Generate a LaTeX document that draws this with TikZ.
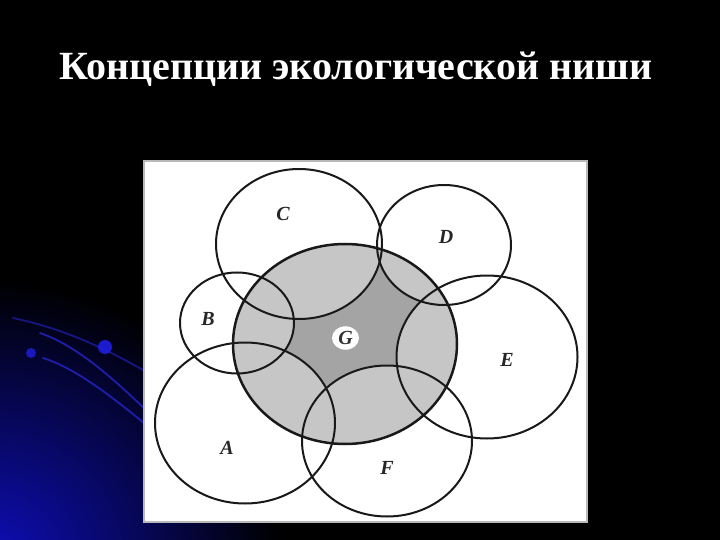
\documentclass[tikz,border=0pt]{standalone}
\usepackage{fontspec}
\setmainfont{Liberation Serif}
\definecolor{gdark}{RGB}{164,164,164}
\definecolor{glight}{RGB}{198,198,198}
\definecolor{glowblue}{RGB}{14,14,185}
\definecolor{arcblue}{RGB}{40,40,215}
\definecolor{dotblue}{RGB}{30,30,225}
\definecolor{panelrim}{RGB}{185,185,185}
\begin{document}
\begin{tikzpicture}[x=1pt,y=-1pt,
  ring/.style={draw=black!90, line width=2pt},
  lbl/.style={font=\fontsize{20}{22}\selectfont\bfseries\itshape, text=black!85, inner sep=0pt},
  arcline/.style={draw=arcblue, line width=1.8pt, line cap=round},
  glowdot/.style={fill=dotblue}
]
\useasboundingbox (0,0) rectangle (720,540);
\fill[black] (0,0) rectangle (720,540);
% blue glow bottom-left
\shade[inner color=glowblue, outer color=black]
  (-10,560) ellipse [x radius=290pt, y radius=280pt];
% decorative arcs
\draw[arcline, opacity=0.55] (13,318) .. controls (60,328) and (100,345) .. (150,374);
\draw[arcline, opacity=0.75] (40,333) .. controls (75,345) and (110,375) .. (150,414);
\draw[arcline, opacity=0.75] (43,358) .. controls (75,368) and (110,395) .. (150,428);
\fill[glowdot, opacity=0.8] (31,353) circle (5pt);
\fill[glowdot, opacity=0.9] (105,347) circle (7pt);
% title
\node[anchor=base, text=white, inner sep=0pt, font=\fontsize{40}{48}\selectfont\bfseries] (title) at (356,80) {Концепции экологической ниши};
% white panel
\fill[white, draw=panelrim, line width=1.5pt] (144,161) rectangle (587,522);
% G area
\fill[gdark] (345,344) ellipse [x radius=112pt, y radius=100pt];
\begin{scope}
  \clip (345,344) ellipse [x radius=112pt, y radius=100pt];
  \fill[glight]
    (299,244) ellipse [x radius=83pt, y radius=75pt]
    (444,245) ellipse [x radius=67pt, y radius=60pt]
    (237,323) ellipse [x radius=57pt, y radius=50.5pt]
    (487,357) ellipse [x radius=90.5pt, y radius=81.5pt]
    (245,423) ellipse [x radius=90pt, y radius=80.5pt]
    (387,441) ellipse [x radius=85pt, y radius=75.5pt];
\end{scope}
% outlines
\draw[ring] (299,244) ellipse [x radius=83pt, y radius=75pt];
\draw[ring] (444,245) ellipse [x radius=67pt, y radius=60pt];
\draw[ring] (237,323) ellipse [x radius=57pt, y radius=50.5pt];
\draw[ring] (487,357) ellipse [x radius=90.5pt, y radius=81.5pt];
\draw[ring] (245,423) ellipse [x radius=90pt, y radius=80.5pt];
\draw[ring] (387,441) ellipse [x radius=85pt, y radius=75.5pt];
\draw[ring, line width=2.5pt] (345,344) ellipse [x radius=112pt, y radius=100pt];
% labels
\node[lbl] (C) at (283,214) {C};
\node[lbl] (D) at (446,237) {D};
\node[lbl] (B) at (208,319) {B};
\node[lbl] (E) at (507,360) {E};
\node[lbl] (A) at (227,448) {A};
\node[lbl] (F) at (387,468) {F};
\fill[white] (345.5,338) ellipse [x radius=13.5pt, y radius=11.7pt];
\node[lbl, text=black!80] (G) at (345.5,338) {G};
\end{tikzpicture}
\end{document}
